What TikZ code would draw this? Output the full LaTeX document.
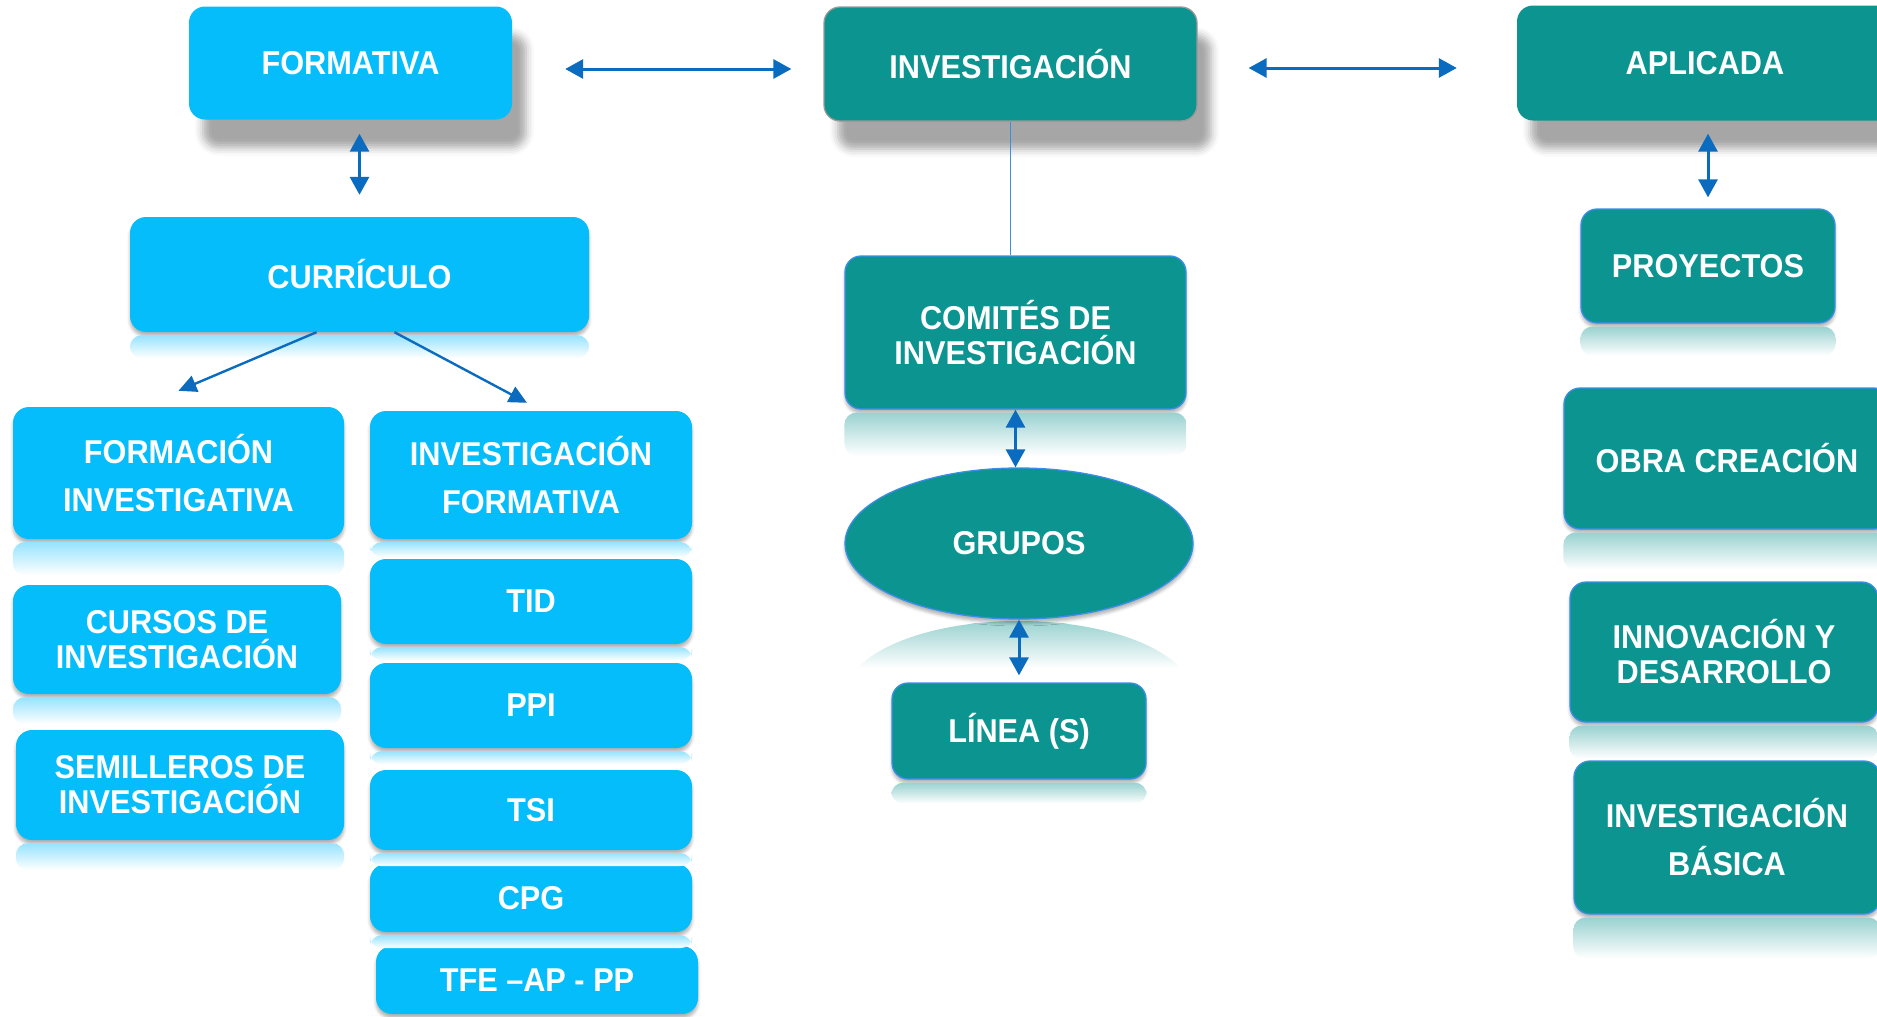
\documentclass[tikz,border=0pt]{standalone}
\usepackage{fontspec}
\setmainfont{Liberation Sans}[FakeStretch=0.93]
\usetikzlibrary{arrows.meta,shapes.geometric,shadows.blur}

\definecolor{celeste}{HTML}{06BDFC}
\definecolor{verdeazul}{HTML}{0C9490}
\definecolor{flecha}{HTML}{0B6CBF}
\definecolor{borde}{HTML}{3B8EE8}

\tikzset{
  caja/.style={rounded corners=16pt, align=center, text=white, inner sep=0pt,
    font=\fontsize{33}{35}\selectfont\bfseries},
  clara/.style={caja, fill=celeste},
  oscura/.style={caja, fill=verdeazul, draw=borde, line width=1.3pt},
  sombra/.style={blur shadow={shadow xshift=14pt, shadow yshift=-28pt, shadow opacity=35, shadow blur radius=8pt}},
  sombrita/.style={blur shadow={shadow xshift=0pt, shadow yshift=-4pt, shadow opacity=30, shadow blur radius=3pt}},
  flechas/.style={{Triangle[length=18pt,width=19pt]}-{Triangle[length=18pt,width=19pt]}, draw=flecha, line width=3pt},
  flechita/.style={-{Triangle[length=18pt,width=17pt]}, draw=flecha, line width=2.4pt},
  linea/.style={draw=borde, line width=1.3pt}
}
% reflejo bajo una caja: nodo, color, alto
\newcommand\reflejo[3]{\shade[top color=#2!42, bottom color=white, rounded corners=12pt]
  ([yshift=-3pt]#1.south west) rectangle ([yshift=-#3]#1.south east);}

\begin{document}
\begin{tikzpicture}[x=1pt, y=-1pt]
    \useasboundingbox (0,0) rectangle (1877,1017);
    \clip (0,0) rectangle (1877,1017);

    % fila superior
    \node[clara, sombra, minimum width=323, minimum height=113] (fmt) at (350.5,63) {FORMATIVA};
    \node[caja, fill=verdeazul, draw=gray!80, line width=1.3pt, sombra, minimum width=373, minimum height=114] (inv) at (1010.5,64) {INVESTIGACIÓN};
    \node[caja, fill=verdeazul, sombra, minimum width=376, minimum height=115] (apl) at (1705,63) {APLICADA};

    % columna formativa
    \node[clara, sombrita, minimum width=459, minimum height=115] (cur) at (359.5,274.5) {CURRÍCULO};
    \reflejo{cur}{celeste}{26pt}
    \node[clara, sombrita, minimum width=331, minimum height=132] (forinv) at (178.5,473) {FORMACIÓN\\[13pt]INVESTIGATIVA};
    \node[clara, sombrita, minimum width=322, minimum height=128] (invform) at (531,475) {INVESTIGACIÓN\\[13pt]FORMATIVA};
    \node[clara, sombrita, minimum width=328, minimum height=109] (cursos) at (177,639.5) {CURSOS DE\\INVESTIGACIÓN};
    \node[clara, sombrita, minimum width=328, minimum height=110] (semi) at (180,785) {SEMILLEROS DE\\INVESTIGACIÓN};
    \reflejo{forinv}{celeste}{36pt}
    \reflejo{cursos}{celeste}{30pt}
    \reflejo{semi}{celeste}{30pt}
    \reflejo{invform}{celeste}{18pt}
    \node[clara, sombrita, minimum width=322, minimum height=85] (tid) at (531,601.5) {TID};
    \node[clara, sombrita, minimum width=322, minimum height=85] (ppi) at (531,705.5) {PPI};
    \node[clara, sombrita, minimum width=322, minimum height=80] (tsi) at (531,810) {TSI};
    \node[clara, sombrita, minimum width=322, minimum height=68] (cpg) at (531,898) {CPG};
    \node[clara, sombrita, minimum width=322, minimum height=68] (tfe) at (537,980) {TFE –AP - PP};
    \foreach \n in {tid,ppi,tsi,cpg}{
      \reflejo{\n}{celeste}{16pt}
    }

    % columna central
    \node[oscura, sombrita, minimum width=341, minimum height=153] (com) at (1015.5,332.5) {COMITÉS DE\\INVESTIGACIÓN};
    \reflejo{com}{verdeazul}{46pt}
    \begin{scope}
      \clip (1019,696) ellipse [x radius=174pt, y radius=75pt];
      \shade[top color=verdeazul!42, bottom color=white] (845,621) rectangle (1193,668);
    \end{scope}
    \node[oscura, ellipse, sombrita, minimum width=348, minimum height=151] (gru) at (1019,543.5) {GRUPOS};
    \node[oscura, sombrita, minimum width=254, minimum height=96] (lin) at (1019,731) {LÍNEA (S)};
    \reflejo{lin}{verdeazul}{24pt}

    % columna aplicada
    \node[oscura, sombrita, minimum width=254, minimum height=114] (proy) at (1708,266) {PROYECTOS};
    \node[oscura, sombrita, minimum width=326, minimum height=141] (obra) at (1727,458.5) {OBRA CREACIÓN};
    \node[oscura, sombrita, minimum width=308, minimum height=140] (innov) at (1724,652) {INNOVACIÓN Y\\DESARROLLO};
    \node[oscura, sombrita, minimum width=306, minimum height=153] (basica) at (1727,837.5) {INVESTIGACIÓN\\[13pt]BÁSICA};
    \reflejo{proy}{verdeazul}{32pt}
    \reflejo{obra}{verdeazul}{40pt}
    \reflejo{innov}{verdeazul}{36pt}
    \reflejo{basica}{verdeazul}{44pt}

    % conectores
    \draw[flechas, shorten <=53pt, shorten >=32pt] ([yshift=-6pt]fmt.east) -- ([yshift=-5pt]inv.west);
    \draw[flechas, shorten <=51pt, shorten >=60pt] ([yshift=-4pt]inv.east) -- ([yshift=-5pt]apl.west);
    \draw[flechas, shorten <=14pt, shorten >=22pt] (cur.north |- fmt.south) -- (cur.north);
    \draw[flechita] ([xshift=-43pt]cur.south) -- ([yshift=16pt]forinv.north);
    \draw[flechita] ([xshift=35pt]cur.south) -- ([xshift=-4pt, yshift=8pt]invform.north);
    \draw[linea] (inv.south) -- (inv.south |- com.north);
    \draw[flechas] (com.south) -- (com.south |- gru.north);
    \draw[flechas, shorten >=7pt] (gru.south) -- (lin.north);
    \draw[flechas, shorten <=13pt, shorten >=11pt] (proy.north |- apl.south) -- (proy.north);
\end{tikzpicture}
\end{document}
